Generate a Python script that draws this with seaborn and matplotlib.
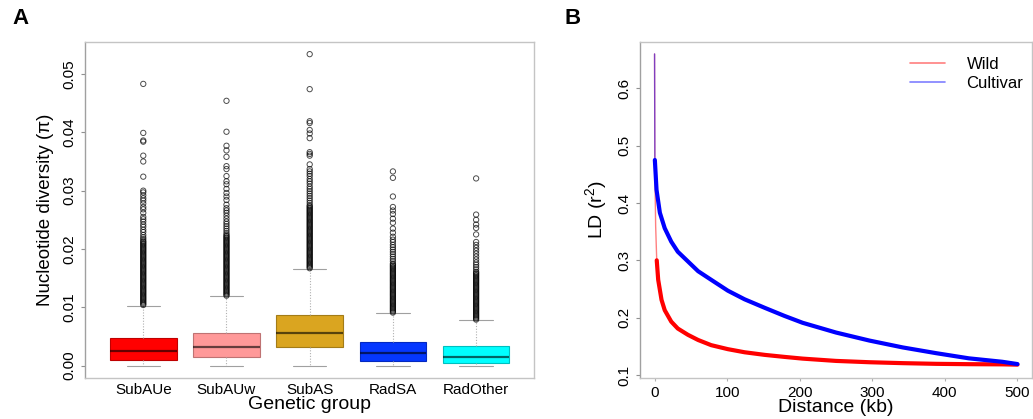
import numpy as np
import pandas as pd
import seaborn as sns
import matplotlib
matplotlib.use("Agg")
from matplotlib import pyplot as plt
from matplotlib.lines import Line2D

# ---- panel A: nucleotide diversity per genetic group (box stats)
groups = ["SubAUe", "SubAUw", "SubAS", "RadSA", "RadOther"]
box_colors = ["#ff0000", "#ff9999", "#daa520", "#0537ff", "#00ffff"]
q1 = [0.00103, 0.00143, 0.00314, 0.00086, 0.00046]
medians = [0.00245, 0.00314, 0.00560, 0.00217, 0.00148]
q3 = [0.00474, 0.00560, 0.00862, 0.00405, 0.00331]
whisk_lo = [0.0, 0.0, 0.0, 0.0, 0.0]
whisk_hi = [0.01027, 0.01190, 0.01660, 0.00896, 0.00780]

# outliers: the black part of each column is packed, above it they thin out
out_subaue = [0.0104, 0.0106, 0.0108, 0.0110, 0.0112, 0.0114, 0.0116, 0.0118, 0.0120, 0.0122,
              0.0124, 0.0126, 0.0128, 0.0130, 0.0132, 0.0134, 0.0136, 0.0138, 0.0140, 0.0142,
              0.0144, 0.0146, 0.0148, 0.0150, 0.0152, 0.0154, 0.0156, 0.0158, 0.0160, 0.0162,
              0.0164, 0.0166, 0.0168, 0.0170, 0.0172, 0.0174, 0.0176, 0.0178, 0.0180, 0.0182,
              0.0184, 0.0186, 0.0188, 0.0190, 0.0192, 0.0194, 0.0196, 0.0198, 0.0200, 0.0202,
              0.0204, 0.0206, 0.0208, 0.0210, 0.0212, 0.0214,
              0.0217, 0.0220, 0.0224, 0.0229, 0.0233, 0.0238, 0.0242, 0.0247, 0.0251, 0.0255,
              0.0262, 0.0268, 0.0272, 0.0278, 0.0283, 0.0287, 0.0292, 0.0297, 0.0300, 0.0324,
              0.0350, 0.0360, 0.0384, 0.0386, 0.0399, 0.0483]
out_subauw = [0.0120, 0.0122, 0.0124, 0.0126, 0.0128, 0.0130, 0.0132, 0.0134, 0.0136, 0.0138,
              0.0140, 0.0142, 0.0144, 0.0146, 0.0148, 0.0150, 0.0152, 0.0154, 0.0156, 0.0158,
              0.0160, 0.0162, 0.0164, 0.0166, 0.0168, 0.0170, 0.0172, 0.0174, 0.0176, 0.0178,
              0.0180, 0.0182, 0.0184, 0.0186, 0.0188, 0.0190, 0.0192, 0.0194, 0.0196, 0.0198,
              0.0200, 0.0202, 0.0204, 0.0206, 0.0208, 0.0210, 0.0212, 0.0214, 0.0216, 0.0218,
              0.0220, 0.0222, 0.0224,
              0.0227, 0.0231, 0.0235, 0.0239, 0.0243, 0.0247, 0.0252, 0.0257, 0.0262, 0.0266,
              0.0270, 0.0276, 0.0284, 0.0290, 0.0296, 0.0303, 0.0311, 0.0316, 0.0325, 0.0337,
              0.0342, 0.0358, 0.0369, 0.0377, 0.0401, 0.0454]
out_subas = [0.0167, 0.0169, 0.0171, 0.0173, 0.0175, 0.0177, 0.0179, 0.0181, 0.0183, 0.0185,
             0.0187, 0.0189, 0.0191, 0.0193, 0.0195, 0.0197, 0.0199, 0.0201, 0.0203, 0.0205,
             0.0207, 0.0209, 0.0211, 0.0213, 0.0215, 0.0217, 0.0219, 0.0221, 0.0223, 0.0225,
             0.0227, 0.0229, 0.0231, 0.0233, 0.0235, 0.0237, 0.0239, 0.0241, 0.0243, 0.0245,
             0.0247, 0.0249, 0.0251, 0.0253, 0.0255, 0.0257, 0.0259, 0.0261, 0.0263, 0.0265,
             0.0267, 0.0269, 0.0271, 0.0273, 0.0275,
             0.0279, 0.0283, 0.0287, 0.0291, 0.0295, 0.0299, 0.0303, 0.0307, 0.0312, 0.0316,
             0.0320, 0.0325, 0.0329, 0.0333, 0.0337, 0.0345, 0.0360, 0.0363, 0.0366, 0.0390,
             0.0398, 0.0404, 0.0416, 0.0419, 0.0474, 0.0534]
out_radsa = [0.0091, 0.0093, 0.0095, 0.0097, 0.0099, 0.0101, 0.0103, 0.0105, 0.0107, 0.0109,
             0.0111, 0.0113, 0.0115, 0.0117, 0.0119, 0.0121, 0.0123, 0.0125, 0.0127, 0.0129,
             0.0131, 0.0133, 0.0135, 0.0137, 0.0139, 0.0141, 0.0143, 0.0145, 0.0147, 0.0149,
             0.0151, 0.0153, 0.0155, 0.0157, 0.0159, 0.0161, 0.0163, 0.0165, 0.0167, 0.0169,
             0.0171, 0.0173, 0.0175,
             0.0179, 0.0183, 0.0187, 0.0191, 0.0195, 0.0199, 0.0203, 0.0207, 0.0212, 0.0216,
             0.0221, 0.0228, 0.0235, 0.0245, 0.0252, 0.0260, 0.0266, 0.0272, 0.0290, 0.0322,
             0.0333]
out_radother = [0.0079, 0.0081, 0.0083, 0.0085, 0.0087, 0.0089, 0.0091, 0.0093, 0.0095, 0.0097,
                0.0099, 0.0101, 0.0103, 0.0105, 0.0107, 0.0109, 0.0111, 0.0113, 0.0115, 0.0117,
                0.0119, 0.0121, 0.0123, 0.0125, 0.0127, 0.0129, 0.0131, 0.0133, 0.0135, 0.0137,
                0.0139, 0.0141, 0.0143, 0.0145, 0.0147, 0.0149, 0.0151, 0.0153, 0.0155, 0.0157,
                0.0159, 0.0161,
                0.0165, 0.0169, 0.0173, 0.0177, 0.0182, 0.0187, 0.0192, 0.0197, 0.0202, 0.0207,
                0.0212, 0.0225, 0.0236, 0.0242, 0.0250, 0.0259, 0.0321]
outliers = [out_subaue, out_subauw, out_subas, out_radsa, out_radother]

# ---- panel B: LD decay
wild_dist = [0, 0.5, 1.5, 3, 5, 9.6, 14, 23, 32, 46, 60, 78, 101, 124, 152, 179, 204, 250,
             296, 342, 388, 433, 479, 500]
wild_ld = [0.660, 0.450, 0.360, 0.300, 0.266, 0.231, 0.213, 0.193, 0.181, 0.170, 0.161, 0.152,
           0.145, 0.1396, 0.135, 0.1315, 0.1285, 0.1245, 0.1222, 0.1206, 0.1194, 0.1188, 0.1185,
           0.118]
cult_dist = [0, 0.4, 2.7, 7.3, 14, 23, 32, 46, 60, 78, 101, 124, 152, 179, 204, 250, 296, 342,
             388, 433, 479, 500]
cult_ld = [0.660, 0.475, 0.423, 0.383, 0.356, 0.3325, 0.315, 0.298, 0.281, 0.266, 0.247, 0.232,
           0.217, 0.203, 0.191, 0.174, 0.160, 0.148, 0.138, 0.129, 0.123, 0.119]
# where each curve turns from the thin spike into the thick band
wild_thick_from = 3
cult_thick_from = 0.4

sns.set_style("white")
plt.rcParams["font.family"] = ["Liberation Sans", "DejaVu Sans"]
plt.rcParams["mathtext.fontset"] = "custom"
plt.rcParams["mathtext.rm"] = "Liberation Sans"
plt.rcParams["text.color"] = "black"
plt.rcParams["axes.labelcolor"] = "black"

fig = plt.figure(figsize=(10.33, 4.19), dpi=100)
axA = fig.add_axes([0.0823, 0.098, 0.435, 0.802])
axB = fig.add_axes([0.6196, 0.098, 0.3794, 0.802])


def darker(c, f=0.7):
    r, g, b = matplotlib.colors.to_rgb(c)
    return (r * f, g * f, b * f)


def style_axes(ax, xticks=False):
    for side in ["top", "right", "bottom", "left"]:
        ax.spines[side].set_color("#c4c4c4")
        ax.spines[side].set_linewidth(1.0)
    ax.spines["left"].set_color("#a0a0a0")
    ax.tick_params(axis="y", length=3, width=0.8, color="#909090", labelsize=11,
                   labelcolor="black", labelrotation=90, pad=3, left=True)
    ax.tick_params(axis="x", length=2 if xticks else 0, width=0.8, color="#b0b0b0",
                   labelsize=11, labelcolor="black", pad=4, bottom=xticks)
    for t in ax.get_yticklabels():
        t.set_va("center")


# panel A boxes
stats = []
for i, g in enumerate(groups):
    stats.append(dict(label=g, q1=q1[i], med=medians[i], q3=q3[i],
                      whislo=whisk_lo[i], whishi=whisk_hi[i], fliers=[]))
bp = axA.bxp(stats, positions=range(len(groups)), widths=0.8, capwidths=0.4,
             patch_artist=True, showfliers=False,
             whiskerprops=dict(color="#b0b0b0", linestyle=(0, (1, 1.5)), linewidth=0.8),
             capprops=dict(color="#a0a0a0", linewidth=0.8),
             medianprops=dict(color="black", alpha=0.6, linewidth=1.6))
for patch, c in zip(bp["boxes"], box_colors):
    patch.set_facecolor(c)
    patch.set_edgecolor(darker(c, 0.75))
    patch.set_linewidth(0.8)

out_df = pd.DataFrame({
    "group": np.repeat(groups, [len(o) for o in outliers]),
    "pi": np.concatenate(outliers),
})
sns.stripplot(data=out_df, x="group", y="pi", order=groups, jitter=False,
              color="black", size=3.8, ax=axA, zorder=3)
for coll in axA.collections:
    coll.set_facecolor("none")
    coll.set_edgecolor((0, 0, 0, 0.7))
    coll.set_linewidth(0.7)

axA.set_xlim(-0.7, 4.7)
axA.set_ylim(-0.0021, 0.0555)
axA.set_yticks([0.0, 0.01, 0.02, 0.03, 0.04, 0.05])
axA.set_yticklabels(["0.00", "0.01", "0.02", "0.03", "0.04", "0.05"])
axA.set_xticks(range(len(groups)))
axA.set_xticklabels(groups)
axA.set_xlabel("Genetic group", fontsize=14, labelpad=-1)
axA.set_ylabel("Nucleotide diversity (π)", fontsize=13.5, labelpad=6)
style_axes(axA)

# panel B lines
wild_df = pd.DataFrame({"dist": wild_dist, "ld": wild_ld, "group": "Wild"})
cult_df = pd.DataFrame({"dist": cult_dist, "ld": cult_ld, "group": "Cultivar"})
pal = {"Wild": "#ff0000", "Cultivar": "#0000ff"}
spike = pd.concat([wild_df[wild_df.dist <= wild_thick_from],
                   cult_df[cult_df.dist <= cult_thick_from]])
body = pd.concat([wild_df[wild_df.dist >= wild_thick_from],
                  cult_df[cult_df.dist >= cult_thick_from]])
sns.lineplot(data=spike, x="dist", y="ld", hue="group", palette=pal, lw=1.0, alpha=0.5,
             legend=False, ax=axB, estimator=None)
sns.lineplot(data=body, x="dist", y="ld", hue="group", palette=pal, lw=3.0,
             legend=False, ax=axB, estimator=None)

axB.set_xlim(-20, 520)
axB.set_ylim(0.0948, 0.681)
axB.set_xticks([0, 100, 200, 300, 400, 500])
axB.set_yticks([0.1, 0.2, 0.3, 0.4, 0.5, 0.6])
axB.set_yticklabels(["0.1", "0.2", "0.3", "0.4", "0.5", "0.6"])
axB.set_xlabel("Distance (kb)", fontsize=14, labelpad=-1)
axB.set_ylabel(r"LD (r$\mathregular{^2}$)", fontsize=14, labelpad=6)
style_axes(axB, xticks=True)

handles = [Line2D([], [], color="#ff0000", alpha=0.5, lw=1.2),
           Line2D([], [], color="#0000ff", alpha=0.5, lw=1.2)]
axB.legend(handles, ["Wild", "Cultivar"], loc="upper right", frameon=False, fontsize=12,
           handlelength=2.1, handletextpad=1.3, labelspacing=0.25,
           bbox_to_anchor=(1.008, 0.99), borderaxespad=0.3)

fig.text(12 / 1033, 1 - 18 / 419, "A", fontsize=16, fontweight="bold", va="center", ha="left")
fig.text(565 / 1033, 1 - 18 / 419, "B", fontsize=16, fontweight="bold", va="center", ha="left")

fig.savefig("out.png", dpi=100)
